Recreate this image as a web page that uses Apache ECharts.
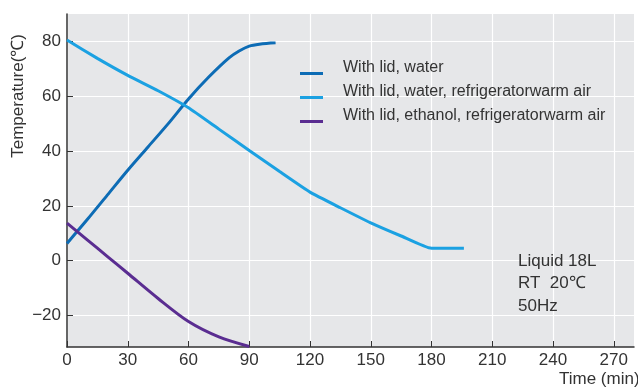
<!DOCTYPE html>
<html><head><meta charset="utf-8">
<script src="https://cdn.jsdelivr.net/npm/echarts@6/dist/echarts.min.js"></script>
<style>html,body{margin:0;padding:0;background:#fff}#c{width:638px;height:389px}</style>
</head><body><div id="c"></div>
<script>
const seriesNames = ['With lid, water', 'With lid, water, refrigeratorwarm air', 'With lid, ethanol, refrigeratorwarm air'];
const waterX = [0, 10, 20, 30, 40, 50, 60, 70, 80, 85, 90, 95, 103];
const waterY = [6.3, 15, 24, 33, 41.5, 50, 59, 67, 74, 76.5, 78.3, 79, 79.5];
const warmX = [0, 15, 30, 45, 60, 75, 90, 105, 120, 135, 150, 165, 180, 196];
const warmY = [80.5, 73.8, 67.6, 62, 55.8, 48, 40.2, 32.5, 25, 19.3, 13.8, 9, 4.5, 4.5];
const ethX = [0, 10, 20, 30, 45, 60, 75, 90];
const ethY = [13.7, 7.6, 1.5, -4.6, -13.8, -22.2, -27.8, -31.3];
const xTicks = [0, 30, 60, 90, 120, 150, 180, 210, 240, 270];
const yTicks = [-20, 0, 20, 40, 60, 80];
const noteLines = ['Liquid 18L', 'RT  20℃', '50Hz'];
const colors = ['#0d6cb5', '#1ba1e2', '#5a2d91'];

const pair = (xs, ys) => xs.map((x, i) => [x, ys[i]]);
const font = 'Liberation Sans, Arial, sans-serif';
const legendIcon = 'path://M0,0 L0.01,0 L0,0.01 Z M0,11 L23,11 L23,14 L0,14 Z M37.99,0 L38,0 L38,0.01 Z';
const chart = echarts.init(document.getElementById('c'), null, {renderer: 'canvas'});
chart.setOption({
  animation: false,
  backgroundColor: '#fff',
  grid: {left: 67, top: 14, right: 4, bottom: 42, show: true, backgroundColor: '#e6e7e9', borderWidth: 0},
  xAxis: {
    type: 'value', min: 0, max: 280, interval: 30,
    axisLine: {show: true, onZero: false, lineStyle: {color: '#333', width: 1.5}},
    axisTick: {show: true, inside: true, length: 6, lineStyle: {color: '#333'}, customValues: xTicks},
    axisLabel: {color: '#333', fontSize: 17, fontFamily: font, margin: 5, customValues: xTicks},
    splitLine: {show: true, lineStyle: {color: '#fff', width: 1.2}}
  },
  yAxis: {
    type: 'value', min: -31.5, max: 90, interval: 20,
    axisLine: {show: true, onZero: false, lineStyle: {color: '#333', width: 1.5}},
    axisTick: {show: true, inside: true, length: 6, lineStyle: {color: '#333'}, customValues: yTicks},
    axisLabel: {color: '#333', fontSize: 17, fontFamily: font, margin: 6,
      customValues: yTicks,
      formatter: v => v < 0 ? '\u2212' + Math.abs(v) : String(v)},
    splitLine: {show: true, lineStyle: {color: '#fff', width: 1.2}}
  },
  legend: {
    orient: 'vertical', left: 295, top: 55, itemWidth: 38, itemHeight: 14, itemGap: 8,
    icon: legendIcon,
    textStyle: {color: '#333', fontSize: 16, fontFamily: font},
    data: seriesNames
  },
  graphic: [
    {type: 'text', left: 10, top: 34, rotation: Math.PI / 2, z: 100,
      style: {text: 'Temperature(℃)', fill: '#333', font: '17px ' + font}},
    {type: 'text', left: 559, top: 371, z: 100,
      style: {text: 'Time (min)', fill: '#333', font: '17px ' + font}},
    {type: 'text', left: 518, top: 250, z: 100,
      style: {text: noteLines.join('\n'), fill: '#333', font: '17px ' + font, lineHeight: 22.5}}
  ],
  series: [
    {name: seriesNames[0], type: 'line', data: pair(waterX, waterY), smooth: 0.3, showSymbol: false,
      lineStyle: {width: 3, color: colors[0]}, itemStyle: {color: colors[0]}},
    {name: seriesNames[1], type: 'line', data: pair(warmX, warmY), smooth: 0.15, showSymbol: false,
      lineStyle: {width: 3, color: colors[1]}, itemStyle: {color: colors[1]}},
    {name: seriesNames[2], type: 'line', data: pair(ethX, ethY), smooth: 0.3, showSymbol: false,
      lineStyle: {width: 3, color: colors[2]}, itemStyle: {color: colors[2]}}
  ]
});
</script></body></html>
